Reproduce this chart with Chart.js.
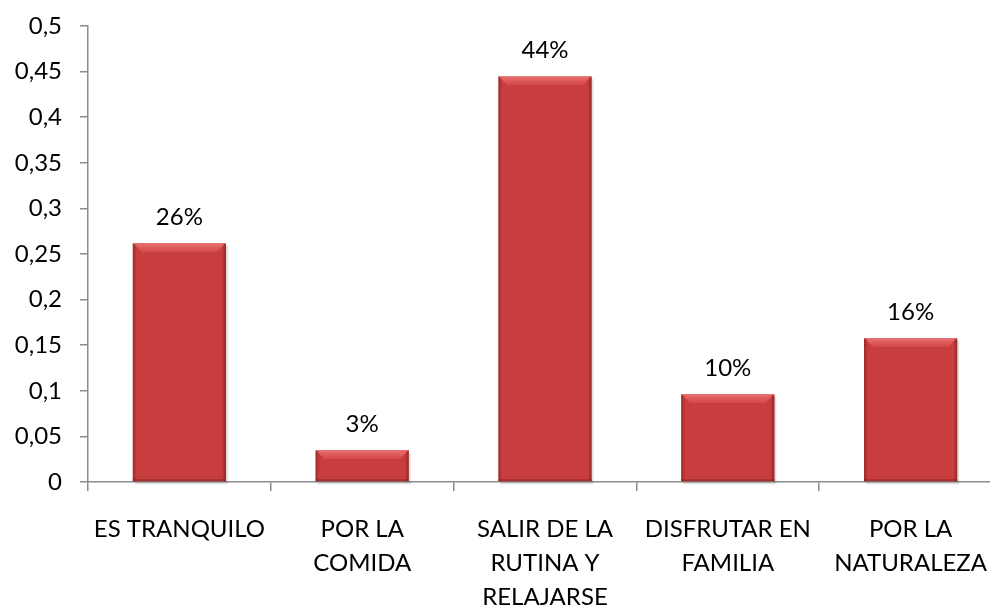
<!DOCTYPE html>
<html>
<head>
<meta charset="utf-8">
<script src="https://cdn.jsdelivr.net/npm/chart.js@4/dist/chart.umd.min.js"></script>
<style>
  html, body { margin: 0; padding: 0; background: #ffffff; overflow: hidden; }
  #wrap { position: relative; width: 1010px; height: 605px; }
</style>
</head>
<body>
<div id="wrap"><canvas id="c"></canvas></div>
<script>
const categories = ['ES TRANQUILO', ['POR LA', 'COMIDA'], ['SALIR DE LA', 'RUTINA Y', 'RELAJARSE'], ['DISFRUTAR EN', 'FAMILIA'], ['POR LA', 'NATURALEZA']];
const values = [0.262, 0.035, 0.445, 0.0965, 0.158];
const valueLabels = ['26%', '3%', '44%', '10%', '16%'];
const yMin = 0, yMax = 0.5, yStep = 0.05;

const FONT = 'Lato, "Open Sans", sans-serif';
const FSIZE = 24;

function barGradient(ctx) {
  const chart = ctx.chart;
  const el = ctx.element;
  if (!el || !chart.chartArea) return '#c83e3e';
  const top = el.y, bottom = el.base;
  if (!isFinite(top) || !isFinite(bottom) || top === bottom) return '#c83e3e';
  const g = chart.ctx.createLinearGradient(0, top, 0, bottom);
  g.addColorStop(0, '#e24d4d');
  g.addColorStop(1, '#b03535');
  return g;
}

const bevelPlugin = {
  id: 'bevel',
  beforeDatasetsDraw(chart) {
    const ctx = chart.ctx;
    const meta = chart.getDatasetMeta(0);
    meta.data.forEach((bar) => {
      const left = bar.x - bar.width / 2, right = bar.x + bar.width / 2;
      ctx.save();
      ctx.fillStyle = 'rgba(0,0,0,0.12)';
      ctx.fillRect(left + 2, bar.y + 3, right - left, bar.base - bar.y);
      ctx.restore();
    });
  },
  afterDatasetsDraw(chart) {
    const ctx = chart.ctx;
    const meta = chart.getDatasetMeta(0);
    meta.data.forEach((bar) => {
      const left = bar.x - bar.width / 2, right = bar.x + bar.width / 2;
      const top = bar.y, bottom = bar.base;
      const b = Math.min(9, (bottom - top) / 3);
      ctx.save();
      const tg = ctx.createLinearGradient(0, top, 0, top + b);
      tg.addColorStop(0, 'rgba(255,150,150,0.6)');
      tg.addColorStop(1, 'rgba(255,120,120,0.2)');
      ctx.fillStyle = tg;
      ctx.beginPath();
      ctx.moveTo(left, top);
      ctx.lineTo(right, top);
      ctx.lineTo(right - b, top + b);
      ctx.lineTo(left + b, top + b);
      ctx.closePath();
      ctx.fill();
      const lg = ctx.createLinearGradient(left, 0, left + 4, 0);
      lg.addColorStop(0, 'rgba(90,10,10,0.4)');
      lg.addColorStop(1, 'rgba(90,10,10,0)');
      ctx.fillStyle = lg;
      ctx.fillRect(left, top + 1, 4, bottom - top - 1);
      const rg = ctx.createLinearGradient(right - 4, 0, right, 0);
      rg.addColorStop(0, 'rgba(90,10,10,0)');
      rg.addColorStop(1, 'rgba(90,10,10,0.45)');
      ctx.fillStyle = rg;
      ctx.fillRect(right - 4, top + 1, 4, bottom - top - 1);
      ctx.fillStyle = 'rgba(90,10,10,0.3)';
      ctx.fillRect(left, bottom - 2, right - left, 2);
      ctx.restore();
    });
  }
};

const valueLabelPlugin = {
  id: 'valueLabels',
  afterDatasetsDraw(chart) {
    const ctx = chart.ctx;
    const meta = chart.getDatasetMeta(0);
    ctx.save();
    ctx.font = FSIZE + 'px ' + FONT;
    ctx.fillStyle = '#000000';
    ctx.textAlign = 'center';
    ctx.textBaseline = 'middle';
    meta.data.forEach((bar, i) => {
      ctx.fillText(valueLabels[i], bar.x, bar.y - 26);
    });
    ctx.restore();
  }
};

new Chart(document.getElementById('c'), {
  type: 'bar',
  data: {
    labels: categories,
    datasets: [{
      data: values,
      backgroundColor: barGradient,
      borderWidth: 0,
      barPercentage: 0.51,
      categoryPercentage: 1.0
    }]
  },
  options: {
    responsive: true,
    maintainAspectRatio: false,
    animation: false,
    events: [],
    layout: { padding: { top: 26, right: 8, left: 0, bottom: 0 } },
    plugins: { legend: { display: false }, tooltip: { enabled: false } },
    scales: {
      x: {
        offset: true,
        grid: { display: true, offset: true, drawOnChartArea: false, drawTicks: true, tickLength: 9, color: '#8c8c8c', lineWidth: 1.5 },
        border: { display: true, color: '#8c8c8c', width: 1.5 },
        ticks: { color: '#000000', font: { family: FONT, size: FSIZE, lineHeight: 1.42 }, padding: 21, maxRotation: 0, autoSkip: false },
        afterFit(scale) { scale.height = 123; scale.paddingLeft = 0; scale.paddingRight = 0; }
      },
      y: {
        min: yMin, max: yMax,
        grid: { display: true, drawOnChartArea: false, drawTicks: true, tickLength: 8, color: '#8c8c8c', lineWidth: 1.5 },
        border: { display: true, color: '#8c8c8c', width: 1.5 },
        ticks: {
          stepSize: yStep, color: '#000000', font: { family: FONT, size: FSIZE }, padding: 18,
          callback: (v) => String(parseFloat(v.toFixed(2))).replace('.', ',')
        },
        afterFit(scale) { scale.width = 88; scale.paddingTop = 0; scale.paddingBottom = 0; }
      }
    }
  },
  plugins: [bevelPlugin, valueLabelPlugin]
});
</script>
</body>
</html>
